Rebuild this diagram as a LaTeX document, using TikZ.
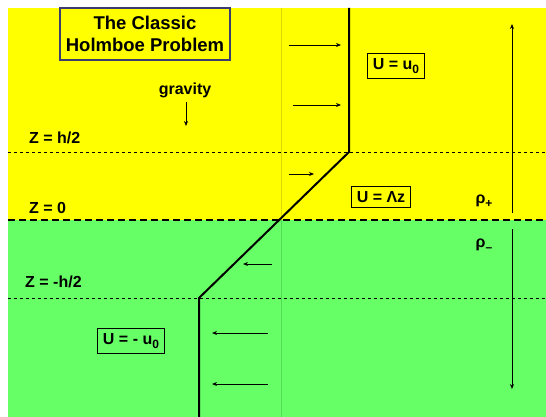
\documentclass[tikz,border=0pt]{standalone}
\usepackage{fontspec}
\setmainfont{Liberation Sans}
\definecolor{hbyellow}{RGB}{255,255,0}
\definecolor{hbgreen}{RGB}{102,255,102}
\definecolor{hbnavy}{RGB}{60,60,110}
\usetikzlibrary{arrows.meta,positioning}
\newcommand{\lowsub}[1]{\raisebox{-4pt}{\fontsize{12}{12}\selectfont #1}}

\begin{document}
\begin{tikzpicture}[x=1pt,y=-1pt,
  lbl/.style={font=\fontsize{16}{18}\selectfont\bfseries,inner sep=0pt},
  ubox/.style={draw,line width=1pt,font=\fontsize{16}{18}\selectfont\bfseries,
    inner xsep=5pt,inner ysep=4.5pt},
  flow/.style={-{Stealth[length=5pt,width=4pt]},line width=0.8pt},
  layer/.style={line width=0.8pt,dash pattern=on 3pt off 3pt},
  profile/.style={line width=2pt}
]
  \useasboundingbox (0,0) rectangle (546,417);
  % Two layers
  \fill[hbyellow] (8,8) rectangle (546,220);
  \fill[hbgreen] (8,220) rectangle (546,417);
  \draw[black,opacity=0.15,line width=1pt] (281,8) -- (281,417);

  % Interfaces
  \coordinate (ha) at (8,152);   \coordinate (hb) at (546,152);
  \coordinate (za) at (8,220);   \coordinate (zb) at (546,220);
  \coordinate (la) at (8,298);   \coordinate (lb) at (546,298);
  \draw[layer] (ha) -- (hb);
  \draw[layer] (la) -- (lb);
  \draw[line width=1.5pt,dash pattern=on 7pt off 4pt] (za) -- (zb);

  % Velocity profile
  \coordinate (p0) at (349,8);
  \coordinate (p1) at (349,152);
  \coordinate (p2) at (199,298);
  \coordinate (p3) at (199,417);
  \draw[profile] (p0) -- (p1) -- (p2) -- (p3);

  % Flow arrows
  \coordinate (r1) at (289,45);  \coordinate (r1e) at (341,45);
  \coordinate (r2) at (293,105); \coordinate (r2e) at (341,105);
  \coordinate (r3) at (289,174); \coordinate (r3e) at (314,174);
  \coordinate (l1) at (272,264); \coordinate (l1e) at (243,264);
  \coordinate (l2) at (268,333); \coordinate (l2e) at (212,333);
  \coordinate (l3) at (268,384); \coordinate (l3e) at (212,384);
  \foreach \s/\e in {r1/r1e,r2/r2e,r3/r3e,l1/l1e,l2/l2e,l3/l3e}
    \draw[flow] (\s) -- (\e);

  % Density
  \coordinate (up0) at (512,213); \coordinate (up1) at (512,24);
  \coordinate (dn0) at (512,229); \coordinate (dn1) at (512,389);
  \draw[flow] (up0) -- (up1);
  \draw[flow] (dn0) -- (dn1);
  \node[lbl] (rhop) at (484,201) {ρ\lowsub{+}};
  \node[lbl] (rhom) at (484,245) {ρ\lowsub{–}};

  % Title
  \node[draw=hbnavy,line width=1.6pt,minimum width=170pt,minimum height=52pt,
    align=center,font=\fontsize{18.5}{22}\selectfont\bfseries] (title) at (145,34)
    {The Classic\\Holmboe Problem};

  % Gravity
  \node[lbl] (grav) at (185,90) {gravity};
  \coordinate (g0) at (186,102); \coordinate (g1) at (186,126);
  \draw[flow] (g0) -- (g1);

  % Levels
  \node[lbl,anchor=west] (zh) at (29,138) {Z = h/2};
  \node[lbl,anchor=west] (z0) at (29,208) {Z = 0};
  \node[lbl,anchor=west] (zm) at (25,282) {Z = -h/2};

  % Velocities
  \node[ubox] (uup) at (396,66) {U = u\lowsub{0}};
  \node[ubox] (ulin) at (381,197) {U = Λz};
  \node[ubox] (ulow) at (131,341) {U = - u\lowsub{0}};
\end{tikzpicture}
\end{document}
